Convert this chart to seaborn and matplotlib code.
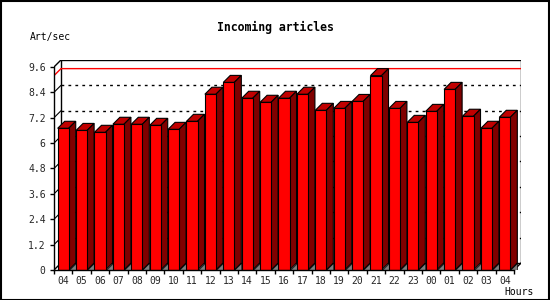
import matplotlib
matplotlib.use("Agg")
import matplotlib.pyplot as plt
import seaborn as sns
import numpy as np
import pandas as pd
from matplotlib.patches import Polygon, Rectangle

hours = ["04", "05", "06", "07", "08", "09", "10", "11", "12", "13", "14", "15",
         "16", "17", "18", "19", "20", "21", "22", "23", "00", "01", "02", "03", "04"]
values = [6.70, 6.60, 6.51, 6.89, 6.89, 6.84, 6.65, 7.03, 8.31, 8.87, 8.12, 7.93,
          8.12, 8.31, 7.55, 7.64, 7.97, 9.19, 7.64, 6.98, 7.50, 8.54, 7.27, 6.70, 7.22]
yticks = [0, 1.2, 2.4, 3.6, 4.8, 6, 7.2, 8.4, 9.6]
ytick_labels = ["0", "1.2", "2.4", "3.6", "4.8", "6", "7.2", "8.4", "9.6"]
title = "Incoming articles"
ylabel = "Art/sec"
xlabel = "Hours"

sns.set_theme(style="white")
plt.rcParams['font.family'] = ['DejaVu Sans Mono']

W, H = 550, 300
fig = plt.figure(figsize=(5.5, 3.0), dpi=100)
fig.patch.set_facecolor("white")
fig.patches.append(Rectangle((0.5 / W, 0.5 / H), 1 - 1.5 / W, 1 - 1.5 / H, transform=fig.transFigure,
                             fill=False, edgecolor="black", linewidth=1.5))

n = len(values)
slot_px = 18.4
unit_px = 21.15
depth_px = 7
dx = depth_px / slot_px
dy = depth_px / unit_px
ymax = 9.6

left_px, bottom_px = 54, 270
ax_w_px = (n + dx) * slot_px
ax_h_px = (ymax + dy) * unit_px
ax = fig.add_axes([left_px / W, (H - bottom_px) / H, ax_w_px / W, ax_h_px / H])
ax.set_facecolor("none")

df = pd.DataFrame({"hour": [f"{i}" for i in range(n)], "val": values})

# back panel
ax.add_patch(Rectangle((-0.5 + dx, dy), n, ymax, facecolor="white", edgecolor="black",
                       linewidth=1, zorder=0.5))
# dotted grid lines on back panel + diagonal connectors
for v in yticks[1:-1]:
    ax.plot([-0.5 + dx, n - 0.5 + dx], [v + dy, v + dy], color="black", linewidth=1,
            linestyle=(0, (2, 3)), zorder=0.6)
    ax.plot([-0.5, -0.5 + dx], [v, v + dy], color="black", linewidth=0.8, zorder=0.6)
# frame diagonals
ax.plot([-0.5, -0.5 + dx], [ymax, ymax + dy], color="black", linewidth=1, zorder=0.7)
ax.plot([-0.5, -0.5 + dx], [0, dy], color="black", linewidth=1, zorder=0.7)
ax.plot([n - 0.5, n - 0.5 + dx], [0, dy], color="black", linewidth=1, zorder=0.7)

# max line
m = max(values)
ax.plot([-0.5, -0.5 + dx, n - 0.5 + dx], [m, m + dy, m + dy], color="#ff0000",
        linewidth=1, zorder=0.8)

sns.barplot(data=df, x="hour", y="val", color="#ff0000", saturation=1, width=0.6,
            edgecolor="black", linewidth=0.8, ax=ax, zorder=3)

for p in list(ax.patches):
    if not isinstance(p, Rectangle) or p.get_zorder() != 3:
        continue
    x0 = p.get_x()
    x1 = x0 + p.get_width()
    h = p.get_height()
    ax.add_patch(Polygon([(x1, 0), (x1 + dx, 0), (x1 + dx, dy)], closed=True,
                         facecolor="#808080", edgecolor="black", linewidth=0.5, zorder=2))
    ax.add_patch(Polygon([(x0, h), (x1, h), (x1 + dx, h + dy), (x0 + dx, h + dy)], closed=True,
                         facecolor="#c00000", edgecolor="black", linewidth=0.8, zorder=2.5))
    ax.add_patch(Polygon([(x1, 0), (x1, h), (x1 + dx, h + dy), (x1 + dx, dy)], closed=True,
                         facecolor="#800000", edgecolor="black", linewidth=0.8, zorder=2.5))

ax.set_xlim(-0.5, n - 0.5 + dx)
ax.set_ylim(0, ymax + dy)

for s in ["top", "right"]:
    ax.spines[s].set_visible(False)
ax.spines["left"].set_bounds(0, ymax)
ax.spines["bottom"].set_bounds(-0.5, n - 0.5)
for s in ["left", "bottom"]:
    ax.spines[s].set_color("black")
    ax.spines[s].set_linewidth(1)
    ax.spines[s].set_zorder(5)

ax.set_yticks(yticks)
ax.set_yticklabels(ytick_labels, fontsize=7)
ax.set_xticks(np.arange(n + 1) - 0.5)
ax.set_xticklabels([])
ax.set_xticks(np.arange(n), minor=True)
ax.set_xticklabels(hours, minor=True, fontsize=7)
ax.tick_params(axis="y", which="major", direction="out", length=3, width=1, color="black",
               pad=3, left=True)
ax.tick_params(axis="x", which="major", direction="out", length=3, width=1, color="black",
               bottom=True)
ax.tick_params(axis="x", which="minor", length=0, pad=4, bottom=True)
ax.set_xlabel("")
ax.set_ylabel("")
ax.grid(False)

fig.text(275 / W, 1 - 27 / H, title, ha="center", va="center", fontsize=8.3,
         fontweight="bold", color="black")
fig.text(30 / W, 1 - 37 / H, ylabel, ha="left", va="center", fontsize=7, color="black")
fig.text(504 / W, 1 - 292 / H, xlabel, ha="left", va="center", fontsize=7, color="black")

fig.savefig("out.png", dpi=100)
